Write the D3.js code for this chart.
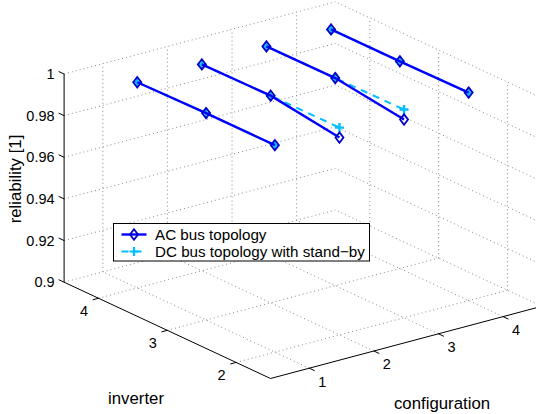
<!DOCTYPE html>
<html>
<head>
<meta charset="utf-8">
<script src="https://cdn.jsdelivr.net/npm/d3@7"></script>
<style>
html,body{margin:0;padding:0;background:#fff;}
svg{display:block;font-family:"Liberation Sans",Arial,Helvetica,sans-serif;}
</style>
</head>
<body>
<svg id="chart" width="536" height="414"></svg>
<script>
// ---- data ----
const configuration = [1, 2, 3, 4];
const inverter = [4, 3, 2];
// reliability per configuration (rows) and inverter (columns: 4, 3, 2)
const acReliability = [
  [0.9988, 0.9994, 0.9994],
  [0.9991, 0.9995, 0.9948],
  [0.9995, 0.9997, 0.9952],
  [0.9994, 0.9995, 0.9999]
];
const dcReliability = [
  [0.9988, 0.9994, 0.9994],
  [0.9991, 0.9995, 0.9996],
  [0.9995, 0.9997, 1.0000],
  [0.9994, 0.9995, 0.9999]
];
const configTicks = [1, 2, 3, 4];
const inverterTicks = [2, 3, 4];
const zTicks = [0.9, 0.92, 0.94, 0.96, 0.98, 1];
const zTickLabels = ["0.9", "0.92", "0.94", "0.96", "0.98", "1"];
const seriesNames = ["AC bus topology", "DC bus topology with stand\u2212by"];

// ---- projection (orthographic 3D view built from d3 scales) ----
const cDomain = [0.4, 4.6], iDomain = [1.5, 4.5], zDomain = [0.9, 1];
const cScale = d3.scaleLinear().domain(cDomain).range([0, 1]);
const iScale = d3.scaleLinear().domain(iDomain).range([0, 1]);
const zScale = d3.scaleLinear().domain(zDomain).range([0, 1]);
const O = [270.5, 378.5];          // screen position of (cmin, imin, zmin)
const EC = [271.3, -72.2];         // full config edge
const EI = [-206.4, -96.3];        // full inverter edge
const EZ = [0, -208.2];            // full z edge
function P(c, i, z) {
  const a = cScale(c), b = iScale(i), h = zScale(z);
  return [O[0] + a * EC[0] + b * EI[0] + h * EZ[0],
          O[1] + a * EC[1] + b * EI[1] + h * EZ[1]];
}

const svg = d3.select("#chart");
const gridG = svg.append("g");
const gridStyle = sel => sel.attr("stroke", "#8a8a8a").attr("stroke-width", 1)
  .attr("stroke-dasharray", "1,3").attr("fill", "none");
function seg(g, p, q) {
  return g.append("line").attr("x1", p[0]).attr("y1", p[1]).attr("x2", q[0]).attr("y2", q[1]);
}
const [c0, c1] = cDomain, [i0, i1] = iDomain, [z0, z1] = zDomain;

// floor grid
configTicks.forEach(c => gridStyle(seg(gridG, P(c, i0, z0), P(c, i1, z0))));
inverterTicks.forEach(i => gridStyle(seg(gridG, P(c0, i, z0), P(c1, i, z0))));
// back wall (inverter = max)
configTicks.forEach(c => gridStyle(seg(gridG, P(c, i1, z0), P(c, i1, z1))));
zTicks.forEach(z => gridStyle(seg(gridG, P(c0, i1, z), P(c1, i1, z))));
// side wall (config = max)
inverterTicks.forEach(i => gridStyle(seg(gridG, P(c1, i, z0), P(c1, i, z1))));
zTicks.forEach(z => gridStyle(seg(gridG, P(c1, i0, z), P(c1, i1, z))));

// ---- axes ----
const axG = svg.append("g").attr("stroke", "#000").attr("stroke-width", 1);
seg(axG, P(c0, i1, z0), P(c0, i1, z1));  // z axis
seg(axG, P(c0, i0, z0), P(c0, i1, z0));  // inverter axis
seg(axG, P(c0, i0, z0), P(c1, i0, z0));  // config axis

function unit(v) { const l = Math.hypot(v[0], v[1]); return [v[0] / l, v[1] / l]; }
const uI = unit(EI), uC = unit(EC);
const tl = 6;
// z ticks (point toward +inverter)
zTicks.forEach((z, k) => {
  const p = P(c0, i1, z);
  seg(axG, p, [p[0] + uI[0] * tl, p[1] + uI[1] * tl]);
  svg.append("text").attr("x", p[0] - 9.5).attr("y", p[1]).attr("text-anchor", "end")
    .attr("dominant-baseline", "central").attr("font-size", "14.5px").text(zTickLabels[k]);
});
// inverter ticks (point toward -config)
inverterTicks.forEach(i => {
  const p = P(c0, i, z0);
  seg(axG, p, [p[0] - uC[0] * tl, p[1] - uC[1] * tl]);
  svg.append("text").attr("x", p[0] - 14.5).attr("y", p[1] + 12.5).attr("text-anchor", "middle")
    .attr("dominant-baseline", "central").attr("font-size", "14.5px").text(i);
});
// config ticks (point toward -inverter)
configTicks.forEach(c => {
  const p = P(c, i0, z0);
  seg(axG, p, [p[0] - uI[0] * tl, p[1] - uI[1] * tl]);
  svg.append("text").attr("x", p[0] + 13).attr("y", p[1] + 13.5).attr("text-anchor", "middle")
    .attr("dominant-baseline", "central").attr("font-size", "14.5px").text(c);
});

// axis labels
svg.append("text").attr("transform", "translate(15,179) rotate(-90)").attr("text-anchor", "middle")
  .attr("dominant-baseline", "central").attr("font-size", "16.8px").text("reliability [1]");
svg.append("text").attr("x", 136).attr("y", 398).attr("text-anchor", "middle")
  .attr("dominant-baseline", "central").attr("font-size", "16.8px").text("inverter");
svg.append("text").attr("x", 442).attr("y", 403).attr("text-anchor", "middle")
  .attr("dominant-baseline", "central").attr("font-size", "16.8px").text("configuration");

// ---- series ----
const acColor = "#0000ff", acEdge = "#0000c8", dcColor = "#00bfff";
const line = d3.line();
const dataG = svg.append("g");
const diamond = (x, y) => `M${x},${y - 5.2}L${x + 4},${y}L${x},${y + 5.2}L${x - 4},${y}Z`;
const plus = (x, y) => `M${x - 4.5},${y}H${x + 4.5}M${x},${y - 4.5}V${y + 4.5}`;

// DC series first (beneath)
configuration.forEach((c, ci) => {
  const pts = inverter.map((inv, k) => P(c, inv, dcReliability[ci][k]));
  dataG.append("path").attr("d", line(pts)).attr("fill", "none").attr("stroke", dcColor)
    .attr("stroke-width", 2).attr("stroke-dasharray", "7,6");
  pts.forEach(p => dataG.append("path").attr("d", plus(p[0], p[1])).attr("stroke", dcColor)
    .attr("stroke-width", 2.4).attr("fill", "none"));
});
// AC series on top
configuration.forEach((c, ci) => {
  const pts = inverter.map((inv, k) => P(c, inv, acReliability[ci][k]));
  dataG.append("path").attr("d", line(pts)).attr("fill", "none").attr("stroke", acColor)
    .attr("stroke-width", 2.4);
  pts.forEach(p => dataG.append("path").attr("d", diamond(p[0], p[1])).attr("stroke", acEdge)
    .attr("stroke-width", 1.8).attr("fill", "none"));
});

// ---- legend ----
const lg = svg.append("g");
lg.append("rect").attr("x", 113.5).attr("y", 223.5).attr("width", 256).attr("height", 37.5)
  .attr("fill", "#fff").attr("stroke", "#000").attr("stroke-width", 1);
const ly = [234.5, 251.5];
seg(lg, [121.5, ly[0]], [146.5, ly[0]]).attr("stroke", acColor).attr("stroke-width", 2.4);
lg.append("path").attr("d", diamond(134, ly[0])).attr("stroke", acEdge).attr("stroke-width", 1.8).attr("fill", "none");
seg(lg, [121.5, ly[1]], [146.5, ly[1]]).attr("stroke", dcColor).attr("stroke-width", 2).attr("stroke-dasharray", "7,6");
lg.append("path").attr("d", plus(134, ly[1])).attr("stroke", dcColor).attr("stroke-width", 2.2).attr("fill", "none");
seriesNames.forEach((n, k) => lg.append("text").attr("x", 155).attr("y", ly[k]).attr("dominant-baseline", "central")
  .attr("font-size", "15.2px").text(n));
</script>
</body>
</html>
